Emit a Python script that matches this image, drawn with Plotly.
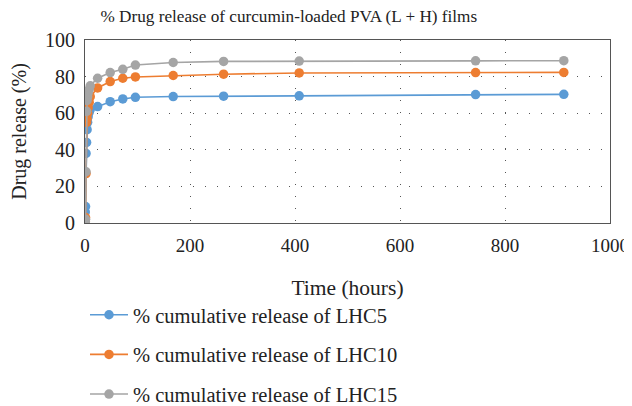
import plotly.graph_objects as go

# time points (hours) and cumulative release (%)
time_h = [0, 0.5, 1, 2, 3, 4, 5, 6, 8, 10, 24, 48, 72, 96, 168, 264, 408, 744, 912]
lhc5 = [0, 6, 9, 38, 44, 51, 55, 58, 60.5, 62, 63.6, 66.3, 67.8, 68.7, 69.1, 69.3, 69.5, 70.2, 70.3]
lhc10 = [0, 1, 3, 27, 55, 57, 60, 63, 66, 69, 73.8, 77.3, 79.1, 79.8, 80.6, 81.3, 82.0, 82.2, 82.3]
lhc15 = [0, 1, 2, 28, 61, 67, 69, 71, 73, 75, 79.1, 82.2, 84.0, 86.3, 87.7, 88.3, 88.5, 88.6, 88.7]

names = ['% cumulative release of LHC5', '% cumulative release of LHC10', '% cumulative release of LHC15']
colors = ['#5b9bd5', '#ed7d31', '#a5a5a5']

FONT = 'Liberation Serif, Times New Roman, serif'
TXT = '#222222'

fig = go.Figure()
for i, (vals, name, col) in enumerate(zip([lhc5, lhc10, lhc15], names, colors)):
    fig.add_trace(go.Scatter(x=time_h, y=vals, name=name, mode='lines+markers',
                             line=dict(color=col, width=1.6),
                             marker=dict(color=col, size=9.5),
                             legendgroup='g%d' % i))

# page body has an 8px margin, so the figure is a bit smaller than the window
fig.update_layout(
    width=624, height=398,
    margin=dict(l=77, r=22, t=32, b=183, autoexpand=False),
    paper_bgcolor='white', plot_bgcolor='white',
    font=dict(family=FONT, size=20, color=TXT),
    title=dict(text='% Drug release of curcumin-loaded PVA (L + H) films',
               x=0.450, xanchor='center', y=0.981, yanchor='middle',
               font=dict(family=FONT, size=17.2, color=TXT)),
    showlegend=True,
    legend=dict(x=0.0, xanchor='left', y=-0.393, yanchor='top',
                traceorder='grouped', tracegroupgap=10, itemwidth=38,
                font=dict(family=FONT, size=20.5, color=TXT),
                bgcolor='rgba(0,0,0,0)'),
)

fig.update_xaxes(range=[0, 1000], dtick=200, showgrid=True,
                 gridcolor='#555555', griddash='1px,11px', gridwidth=1,
                 zeroline=False, showline=True, linecolor='#555555', linewidth=1.2,
                 mirror=True, ticks='', automargin=False, ticklabelstandoff=5,
                 tickfont=dict(family=FONT, size=19, color=TXT),
                 title=dict(text='Time (hours)', font=dict(family=FONT, size=21.5, color=TXT), standoff=25))
fig.update_yaxes(range=[0, 100], dtick=20, showgrid=True,
                 gridcolor='#555555', griddash='1px,11px', gridwidth=1,
                 zeroline=False, showline=True, linecolor='#555555', linewidth=1.2,
                 mirror=True, ticks='', automargin=False, ticklabelstandoff=5,
                 tickfont=dict(family=FONT, size=20, color=TXT),
                 title=dict(text='Drug release (%)', font=dict(family=FONT, size=20, color=TXT), standoff=12))

fig.write_html("out.html")
